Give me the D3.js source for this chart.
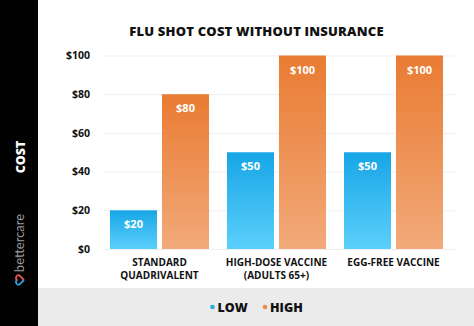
<!DOCTYPE html>
<html>
<head>
<meta charset="utf-8">
<script src="https://cdn.jsdelivr.net/npm/d3@7"></script>
<style>
  html, body { margin: 0; padding: 0; background: #fff; }
  svg { display: block; }
  text { font-family: "Open Sans", "DejaVu Sans", sans-serif; }
</style>
</head>
<body>
<svg id="chart" width="474" height="326"></svg>
<script>
// Flu shot cost without insurance, low and high price per vaccine type
const categories = [
  ["STANDARD", "QUADRIVALENT"],
  ["HIGH-DOSE VACCINE", "(ADULTS 65+)"],
  ["EGG-FREE VACCINE"]
];
const lowCost = [20, 50, 50];
const highCost = [80, 100, 100];
const seriesNames = ["LOW", "HIGH"];
const yTicks = [0, 20, 40, 60, 80, 100];

const W = 474, H = 326;
const svg = d3.select("#chart");

const plot = { left: 103, right: 455, top: 55.5, bottom: 249 };

// Gradients for the bars
const defs = svg.append("defs");
const grads = [
  { id: "gLow", top: "#17a5e6", bottom: "#5cd0fb" },
  { id: "gHigh", top: "#e97b32", bottom: "#f2aa7a" }
];
grads.forEach(g => {
  const lg = defs.append("linearGradient").attr("id", g.id)
    .attr("x1", 0).attr("y1", 0).attr("x2", 0).attr("y2", 1);
  lg.append("stop").attr("offset", "0%").attr("stop-color", g.top);
  lg.append("stop").attr("offset", "100%").attr("stop-color", g.bottom);
});

// Background panels: black side strip and grey legend band
svg.append("rect").attr("x", 0).attr("y", 0).attr("width", 38).attr("height", H).attr("fill", "#020202");
svg.append("rect").attr("x", 38).attr("y", 288).attr("width", W - 38).attr("height", H - 288).attr("fill", "#ebebeb");

// Side labels
svg.append("text")
  .attr("transform", "translate(25,157) rotate(-90)")
  .attr("text-anchor", "middle")
  .attr("fill", "#fff")
  .attr("font-size", 12.5)
  .attr("font-weight", 800)
  .text("COST");

svg.append("text")
  .attr("transform", "translate(24,243) rotate(-90)")
  .attr("text-anchor", "middle")
  .attr("fill", "#9a9a9a")
  .attr("font-size", 13)
  .attr("font-weight", 400)
  .style("font-family", "Lato, 'Open Sans', sans-serif")
  .text("bettercare");

// Small heart mark under the brand name
const heart = svg.append("g").attr("transform", "translate(20,280) rotate(-90)");
heart.append("path")
  .attr("d", "M0,4 L-4.5,-0.5 A2.4,2.4 0 0 1 0,-2.5")
  .attr("fill", "none").attr("stroke", "#2a9fd6").attr("stroke-width", 1.8);
heart.append("path")
  .attr("d", "M0,-2.5 A2.4,2.4 0 0 1 4.5,-0.5 L0,4")
  .attr("fill", "none").attr("stroke", "#e0554f").attr("stroke-width", 1.8);

// Title
svg.append("text")
  .attr("x", 256.5).attr("y", 35.5)
  .attr("text-anchor", "middle")
  .attr("fill", "#111")
  .attr("font-size", 13)
  .attr("font-weight", 800)
  .attr("letter-spacing", 0.2)
  .text("FLU SHOT COST WITHOUT INSURANCE");

// Scales
const y = d3.scaleLinear().domain([0, 100]).range([plot.bottom, plot.top]);
const x0 = d3.scaleBand().domain(d3.range(categories.length))
  .range([110, 443]).paddingInner(18 / 117).paddingOuter(0);
const x1 = d3.scaleBand().domain([0, 1]).range([0, x0.bandwidth()]).paddingInner(5 / 52);

// Gridlines
svg.append("g")
  .selectAll("line").data(yTicks).join("line")
  .attr("x1", plot.left).attr("x2", plot.right)
  .attr("y1", d => y(d) + 0.5).attr("y2", d => y(d) + 0.5)
  .attr("stroke", "#efefef").attr("stroke-width", 1);

// Y axis labels
const yAxis = d3.axisLeft(y).tickValues(yTicks).tickSize(0).tickPadding(0)
  .tickFormat(d => "$" + d);
const ya = svg.append("g").attr("transform", "translate(90,0)").call(yAxis);
ya.select(".domain").remove();
ya.selectAll("text")
  .attr("fill", "#111")
  .attr("font-size", 10.5)
  .attr("font-weight", 700)
  .style("font-family", "'Open Sans', sans-serif");

// Bars
const series = [lowCost, highCost];
const fills = ["url(#gLow)", "url(#gHigh)"];
series.forEach((vals, s) => {
  const g = svg.append("g");
  g.selectAll("rect").data(vals).join("rect")
    .attr("x", (d, i) => x0(i) + x1(s))
    .attr("y", d => y(d))
    .attr("width", x1.bandwidth())
    .attr("height", d => y(0) - y(d))
    .attr("fill", fills[s]);
  g.selectAll("text").data(vals).join("text")
    .attr("x", (d, i) => x0(i) + x1(s) + x1.bandwidth() / 2)
    .attr("y", d => y(d) + 18)
    .attr("text-anchor", "middle")
    .attr("fill", "#fff")
    .attr("font-size", 11)
    .attr("font-weight", 700)
    .text(d => "$" + d);
});

// Category labels
const xl = svg.append("g");
categories.forEach((lines, i) => {
  const cx = x0(i) + x0.bandwidth() / 2;
  const t = xl.append("text")
    .attr("x", cx)
    .attr("y", 266)
    .attr("text-anchor", "middle")
    .attr("fill", "#111")
    .attr("font-size", 10)
    .attr("font-weight", 700);
  lines.forEach((ln, k) => {
    t.append("tspan").attr("x", cx)
      .attr("dy", k === 0 ? 0 : 13).text(ln);
  });
});

// Legend
const legendColors = ["#2aabe2", "#ec8a4d"];
const legendPos = [212.5, 265];
seriesNames.forEach((name, k) => {
  svg.append("circle").attr("cx", legendPos[k]).attr("cy", 307)
    .attr("r", 2.3).attr("fill", legendColors[k]);
  svg.append("text").attr("x", legendPos[k] + 5).attr("y", 311.5)
    .attr("fill", "#111").attr("font-size", 12.5).attr("font-weight", 800)
    .text(name);
});
</script>
</body>
</html>
